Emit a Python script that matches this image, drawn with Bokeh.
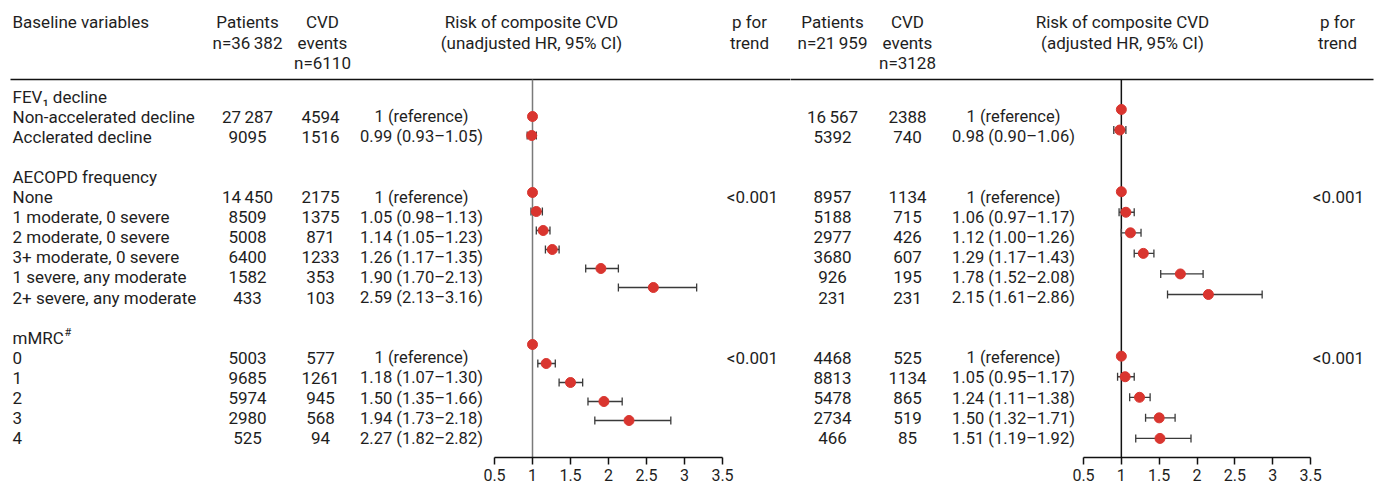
import numpy as np
from bokeh.plotting import figure
from bokeh.models import Range1d, LinearAxis, FixedTicker, NumeralTickFormatter, ColumnDataSource
from bokeh.layouts import row
from bokeh.embed import file_html
from bokeh.resources import INLINE
from bokeh.core.properties import value

# ---------------- data ----------------
group_titles = ["FEV\u2081 decline", "AECOPD frequency", "mMRC"]
group_sizes = [2, 6, 5]
row_labels = ["Non-accelerated decline", "Acclerated decline",
              "None", "1 moderate, 0 severe", "2 moderate, 0 severe", "3+ moderate, 0 severe",
              "1 severe, any moderate", "2+ severe, any moderate",
              "0", "1", "2", "3", "4"]

patients_unadj = [27287, 9095, 14450, 8509, 5008, 6400, 1582, 433, 5003, 9685, 5974, 2980, 525]
events_unadj = [4594, 1516, 2175, 1375, 871, 1233, 353, 103, 577, 1261, 945, 568, 94]
hr_unadj = [1, 0.99, 1, 1.05, 1.14, 1.26, 1.90, 2.59, 1, 1.18, 1.50, 1.94, 2.27]
lo_unadj = [None, 0.93, None, 0.98, 1.05, 1.17, 1.70, 2.13, None, 1.07, 1.35, 1.73, 1.82]
hi_unadj = [None, 1.05, None, 1.13, 1.23, 1.35, 2.13, 3.16, None, 1.30, 1.66, 2.18, 2.82]
ptrend_unadj = ["", "", "<0.001", "", "", "", "", "", "<0.001", "", "", "", ""]

patients_adj = [16567, 5392, 8957, 5188, 2977, 3680, 926, 231, 4468, 8813, 5478, 2734, 466]
events_adj = [2388, 740, 1134, 715, 426, 607, 195, 231, 525, 1134, 865, 519, 85]
hr_adj = [1, 0.98, 1, 1.06, 1.12, 1.29, 1.78, 2.15, 1, 1.05, 1.24, 1.50, 1.51]
lo_adj = [None, 0.90, None, 0.97, 1.00, 1.17, 1.52, 1.61, None, 0.95, 1.11, 1.32, 1.19]
hi_adj = [None, 1.06, None, 1.17, 1.26, 1.43, 2.08, 2.86, None, 1.17, 1.38, 1.71, 1.92]
ptrend_adj = ["", "", "<0.001", "", "", "", "", "", "<0.001", "", "", "", ""]

total_patients = [36382, 21959]
total_events = [6110, 3128]
hr_ticks = [0.5, 1, 1.5, 2, 2.5, 3, 3.5]

# ---------------- layout constants ----------------
W, H = 1376, 486
SPLIT = 790
AXIS_H = 29
FRAME_H = H - AXIS_H
FONT = value("Roboto")
FS = "17px"
FS_HR = "16.5px"
TXT = "#1e1e1e"
RED = "#d9352f"

# text rows: row 0 at px0, pitch px per row
T_PX0, T_PITCH = 96, 20.1
L_PX0, L_PITCH = 97, 19.0      # left forest dots
R_PX0, R_PITCH = 88.4, 20.56   # right forest dots


def yrange(px0, pitch):
    return Range1d(-(FRAME_H - px0) / pitch, px0 / pitch)


def hy(px, px0=T_PX0, pitch=T_PITCH):
    return -(px - px0) / pitch


def fmt_n(n):
    s = str(n)
    if n >= 10000:
        s = s[:-3] + "\u2009" + s[-3:]
    return s


def hr_text(h, lo, hi):
    if lo is None:
        return "1 (reference)"
    return f"{h:.2f} ({lo:.2f}\u2013{hi:.2f})"


# row indices
group_rows, item_rows = [], []
idx = 0
for g, n in zip(group_titles, group_sizes):
    group_rows.append(idx)
    item_rows.extend(range(idx + 1, idx + 1 + n))
    idx += n + 2
item_y = [-r for r in item_rows]
group_y = [-r for r in group_rows]


def make_fig(x0, x1, hr_px05, hr_scale, fpx0, fpitch):
    w = x1 - x0
    p = figure(width=w, height=H, x_range=Range1d(x0, x1), y_range=yrange(T_PX0, T_PITCH),
               x_axis_type=None, y_axis_type=None, toolbar_location=None,
               output_backend="svg", min_border=0, min_border_bottom=AXIS_H,
               outline_line_color=None)
    p.background_fill_color = "white"
    p.border_fill_color = "white"
    loc = hr_px05 - x0
    p.extra_x_ranges = {"hr": Range1d(0.5 - loc / hr_scale, 0.5 + (w - loc) / hr_scale)}
    p.extra_y_ranges = {"f": yrange(fpx0, fpitch)}
    ax = LinearAxis(x_range_name="hr", bounds=(0.5, 3.5),
                    ticker=FixedTicker(ticks=hr_ticks, minor_ticks=[]),
                    formatter=NumeralTickFormatter(format="0.[0]"))
    ax.axis_line_width = 1.5
    ax.axis_line_color = "#111"
    ax.major_tick_line_width = 1.5
    ax.major_tick_line_color = "#111"
    ax.major_tick_out = 7
    ax.major_tick_in = 0
    ax.major_label_standoff = 4
    ax.major_label_text_font = "Roboto"
    ax.major_label_text_font_size = "16px"
    ax.major_label_text_color = TXT
    p.add_layout(ax, "below")
    # header rule
    p.segment(x0=[10], x1=[1373], y0=[hy(79)], y1=[hy(79)], line_color="#111", line_width=1.6)
    return p


def txt(p, xs, ys, texts, align="center", size=FS):
    p.text(x=xs, y=ys, text=texts, text_align=align, text_baseline="middle",
           text_font=FONT, text_font_size=size, text_color=TXT)


def forest(p, hr, lo, hi, line_color, fpx0, fpitch):
    # reference line at HR = 1
    p.segment(x0=[1], x1=[1], y0=[hy(79, fpx0, fpitch)], y1=[-(FRAME_H - fpx0) / fpitch],
              x_range_name="hr", y_range_name="f", line_color=line_color, line_width=1.5)
    bx = [(l, h, -r) for l, h, r in zip(lo, hi, item_rows) if l is not None]
    src = ColumnDataSource(dict(lo=[b[0] for b in bx], hi=[b[1] for b in bx], y=[b[2] for b in bx]))
    p.segment(x0="lo", x1="hi", y0="y", y1="y", source=src, x_range_name="hr", y_range_name="f",
              line_color="#3a3a3a", line_width=1.3)
    for k in ("lo", "hi"):
        p.scatter(x=k, y="y", source=src, marker="dash", angle=np.pi / 2, size=8,
                  line_color="#3a3a3a", line_width=1.3, x_range_name="hr", y_range_name="f")
    p.scatter(x=hr, y=[-r for r in item_rows], size=10, fill_color=RED, line_color=RED,
              x_range_name="hr", y_range_name="f")


# ---------------- left figure ----------------
p1 = make_fig(0, SPLIT, 494, 76.0, L_PX0, L_PITCH)
txt(p1, [12], [hy(21)], ["Baseline variables"], "left")
txt(p1, [247, 247], [hy(21), hy(42)], ["Patients", "n=" + fmt_n(total_patients[0])])
txt(p1, [322, 322, 322], [hy(21), hy(42), hy(62)], ["CVD", "events", "n=" + fmt_n(total_events[0])])
txt(p1, [531, 531], [hy(21), hy(42)], ["Risk of composite CVD", "(unadjusted HR, 95% CI)"])
txt(p1, [749, 749], [hy(21), hy(42)], ["p for", "trend"])
txt(p1, [12] * 2, group_y[:2], group_titles[:2], "left")
txt(p1, [12], [group_y[2]], [group_titles[2]], "left")
txt(p1, [64], [group_y[2] + 0.25], ["#"], "left", "11px")
txt(p1, [12] * len(row_labels), item_y, row_labels, "left")
txt(p1, [247] * len(item_y), item_y, [fmt_n(v) for v in patients_unadj])
txt(p1, [320] * len(item_y), item_y, [fmt_n(v) for v in events_unadj])
txt(p1, [421] * len(item_y), item_y, [hr_text(*t) for t in zip(hr_unadj, lo_unadj, hi_unadj)],
    size=FS_HR)
txt(p1, [752] * len(item_y), item_y, ptrend_unadj)
forest(p1, hr_unadj, lo_unadj, hi_unadj, "#7a7a7a", L_PX0, L_PITCH)

# ---------------- right figure ----------------
p2 = make_fig(SPLIT, W, 1083, 75.7, R_PX0, R_PITCH)
txt(p2, [832, 832], [hy(21), hy(42)], ["Patients", "n=" + fmt_n(total_patients[1])])
txt(p2, [907, 907, 907], [hy(21), hy(42), hy(62)], ["CVD", "events", "n=" + fmt_n(total_events[1])])
txt(p2, [1122, 1122], [hy(21), hy(42)], ["Risk of composite CVD", "(adjusted HR, 95% CI)"])
txt(p2, [1337, 1337], [hy(21), hy(42)], ["p for", "trend"])
txt(p2, [832] * len(item_y), item_y, [fmt_n(v) for v in patients_adj])
txt(p2, [907] * len(item_y), item_y, [fmt_n(v) for v in events_adj])
txt(p2, [1013] * len(item_y), item_y, [hr_text(*t) for t in zip(hr_adj, lo_adj, hi_adj)],
    size=FS_HR)
txt(p2, [1338] * len(item_y), item_y, ptrend_adj)
forest(p2, hr_adj, lo_adj, hi_adj, "#111111", R_PX0, R_PITCH)

layout = row(p1, p2, spacing=0)
open("out.html", "w").write(file_html(layout, INLINE))
